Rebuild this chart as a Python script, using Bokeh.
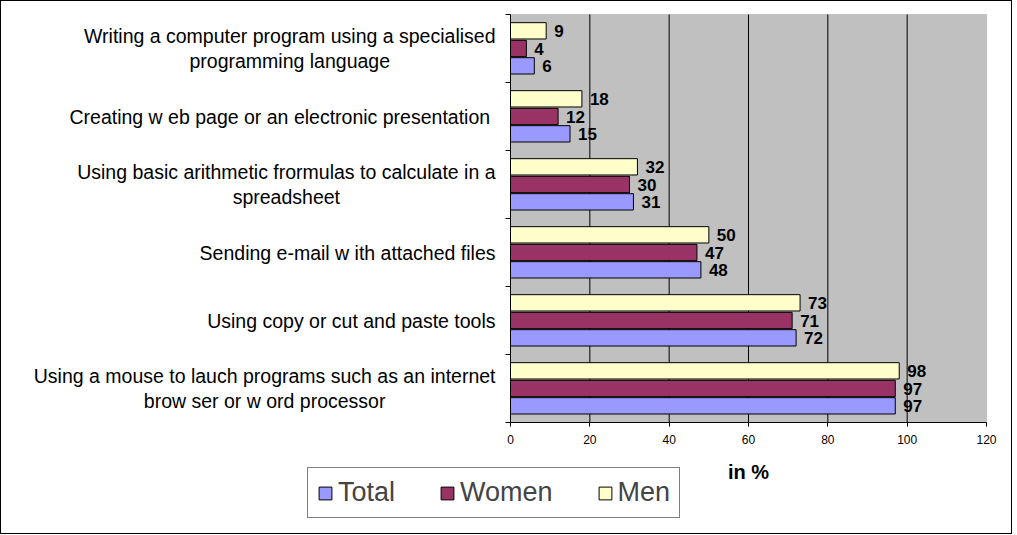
from bokeh.plotting import figure
from bokeh.models import (ColumnDataSource, FixedTicker, Legend, LegendItem, Label,
                          LinearAxis, BoxAnnotation, Range1d)
from bokeh.core.properties import value
from bokeh.embed import file_html
from bokeh.resources import INLINE

categories = [
    "Using a mouse to lauch programs such as an internet\nbrow ser or w ord processor",
    "Using copy or cut and paste tools",
    "Sending e-mail w ith attached files",
    "Using basic arithmetic frormulas to calculate in a\nspreadsheet",
    "Creating  w eb page or an electronic presentation",
    "Writing a computer program using a specialised\nprogramming language",
]
total = [97, 72, 48, 31, 15, 6]
women = [97, 71, 47, 30, 12, 4]
men = [98, 73, 50, 32, 18, 9]
series_names = ["Total", "Women", "Men"]
colors = ["#9999FF", "#993366", "#FFFFCC"]
x_ticks = [0, 20, 40, 60, 80, 100, 120]

FONT = "Liberation Sans"
n = len(categories)
centers = [i + 0.5 for i in range(n)]
x_max = x_ticks[-1]

# canvas geometry (pixels): plot area spans x 509..985, y 13..421 of a 1012x534 canvas
W, H = 1012, 534
left_px, right_px, top_px, bottom_px = 509, 985, 13, 421
ppx = (right_px - left_px) / x_max          # pixels per percent
ppy = (bottom_px - top_px) / n              # pixels per category

p = figure(width=W, height=H, output_backend="svg", toolbar_location=None,
           x_axis_location=None, y_axis_location=None,
           x_range=Range1d(-left_px / ppx, x_max + (W - right_px) / ppx),
           y_range=Range1d(-(H - bottom_px) / ppy, n + top_px / ppy))
p.min_border = 0
p.styles = {"border": "1px solid #000000", "box-sizing": "border-box"}
p.background_fill_color = "white"
p.border_fill_color = "white"
p.outline_line_color = None
p.grid.visible = False

# plot area background
p.add_layout(BoxAnnotation(left=0, right=x_max, bottom=0, top=n, fill_color="#C0C0C0",
                           fill_alpha=1, line_color="#808080", line_width=1, level="underlay"))
# vertical gridlines restricted to the plot area
inner = x_ticks[1:-1]
p.segment(x0=inner, x1=inner, y0=[0] * len(inner), y1=[n] * len(inner),
          line_color="black", line_width=1)

offsets = [-0.255, 0.0, 0.26]
bar_h = 0.24
renderers = []
for vals, off, col, name in zip([total, women, men], offsets, colors, series_names):
    src = ColumnDataSource(dict(y=[c + off for c in centers], v=vals, t=[str(v) for v in vals]))
    r = p.hbar(y="y", right="v", left=0, height=bar_h, source=src,
               fill_color=col, line_color="black", line_width=1)
    renderers.append((name, r))
    p.text(x="v", y="y", text="t", source=src, x_offset=8,
           text_font=value(FONT), text_font_style="bold", text_font_size="17px",
           text_baseline="middle", text_align="left", text_color="black")

# x axis at y = 0
xaxis = LinearAxis(fixed_location=0, bounds=(0, x_max), ticker=FixedTicker(ticks=x_ticks))
xaxis.major_label_text_font = FONT
xaxis.major_label_text_font_size = "12px"
xaxis.major_label_text_color = "black"
xaxis.major_label_standoff = 8
xaxis.major_tick_out = 4
xaxis.major_tick_in = 0
xaxis.minor_tick_line_color = None
xaxis.axis_line_color = "black"
xaxis.major_tick_line_color = "black"
xaxis.axis_label = "in %"
xaxis.axis_label_text_font = FONT
xaxis.axis_label_text_font_style = "bold"
xaxis.axis_label_text_font_size = "20px"
xaxis.axis_label_text_color = "black"
xaxis.axis_label_standoff = 14
p.add_layout(xaxis, "below")

# y axis at x = 0, ticks at group boundaries
yaxis = LinearAxis(fixed_location=0, bounds=(0, n),
                   ticker=FixedTicker(ticks=[], minor_ticks=list(range(n + 1))))
yaxis.major_label_text_font_size = "0px"
yaxis.major_tick_line_color = None
yaxis.minor_tick_out = 5
yaxis.minor_tick_in = 0
yaxis.minor_tick_line_color = "black"
yaxis.axis_line_color = "black"
p.add_layout(yaxis, "left")

# category labels: block right-aligned next to the axis, lines centred
label_x = -15 / ppx
for c, name in zip(centers, categories):
    p.add_layout(Label(x=label_x, y=c, text=name, anchor="center_right", text_align="center",
                       text_baseline="middle", text_font=FONT, text_font_size="19.5px",
                       text_color="black", text_line_height=1.15))

legend = Legend(items=[LegendItem(label=nm, renderers=[r]) for nm, r in renderers],
                orientation="horizontal", location=(306, H - 517),
                label_text_font=FONT, label_text_font_size="27px",
                glyph_width=16, glyph_height=16, label_standoff=5, spacing=44,
                padding=9, margin=0, border_line_color="black",
                background_fill_color="white", background_fill_alpha=1)
p.add_layout(legend, "center")

open("out.html", "w").write(file_html(p, INLINE))
